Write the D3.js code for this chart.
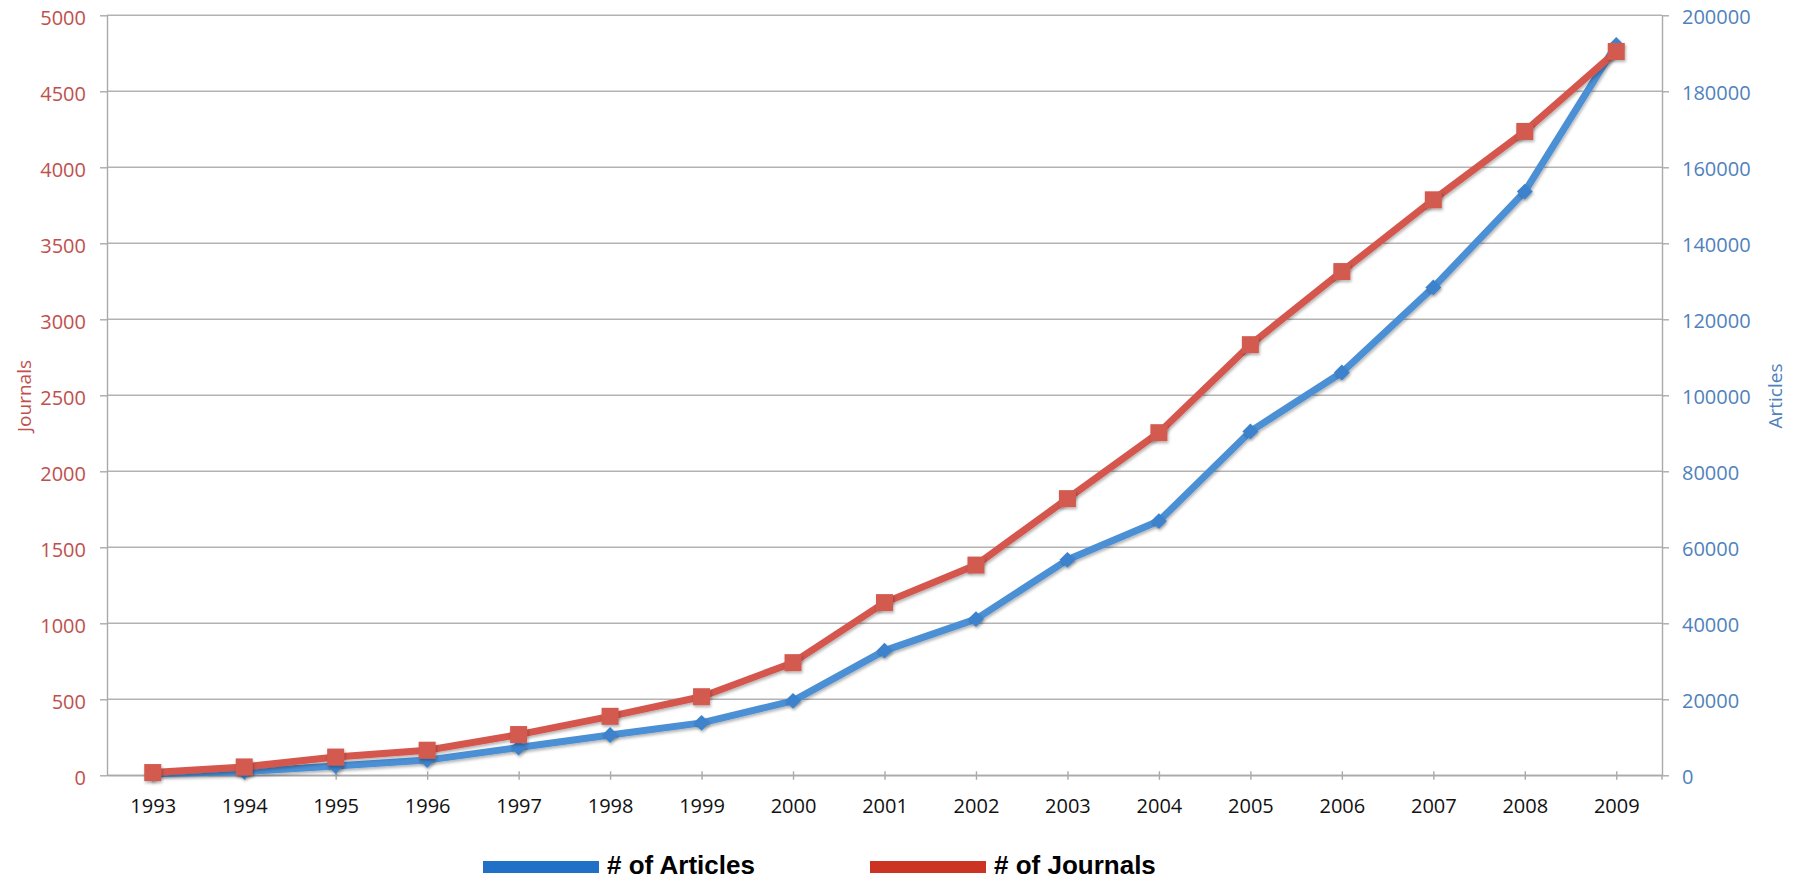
<!DOCTYPE html>
<html>
  <head>
    <meta charset="UTF-8">
    <script src="https://d3js.org/d3.v7.min.js"></script>
    <style>
      body { margin: 0; background: #fff; }
      text { font-family: "Open Sans", sans-serif; }
    </style>
  </head>
  <body>
    <svg id="chart" width="1801" height="881"></svg>

    <script type="text/javascript">
      // データ
      var years = ['1993', '1994', '1995', '1996', '1997', '1998', '1999', '2000', '2001',
                   '2002', '2003', '2004', '2005', '2006', '2007', '2008', '2009'];
      var journals = [18, 55, 120, 165, 268, 388, 517, 741, 1136, 1383, 1820, 2254, 2833, 3314, 3786, 4236, 4762];
      var articles = [400, 950, 2450, 4000, 7300, 10600, 13800, 19600, 32800, 41100, 56700, 66900, 90500, 106000, 128400, 153600, 192200];
      var journalTicks = [0, 500, 1000, 1500, 2000, 2500, 3000, 3500, 4000, 4500, 5000];
      var articleTicks = [0, 20000, 40000, 60000, 80000, 100000, 120000, 140000, 160000, 180000, 200000];

      var svg = d3.select('#chart');
      var plotLeft = 107, plotRight = 1662, plotTop = 15.3, plotBottom = 775.3;

      var x = d3.scalePoint().domain(years).range([plotLeft, plotRight]).padding(0.5);
      var yL = d3.scaleLinear().domain([0, 5000]).range([plotBottom, plotTop]);
      var yR = d3.scaleLinear().domain([0, 200000]).range([plotBottom, plotTop]);

      // シャドウ
      var f = svg.append('defs').append('filter').attr('id', 'shadow')
        .attr('x', '-50%').attr('y', '-50%').attr('width', '200%').attr('height', '200%');
      f.append('feDropShadow').attr('dx', 1).attr('dy', 2).attr('stdDeviation', 1.5)
        .attr('flood-color', '#000').attr('flood-opacity', 0.3);

      // グリッド
      svg.append('g').selectAll('line').data(journalTicks).enter().append('line')
        .attr('x1', plotLeft).attr('x2', plotRight)
        .attr('y1', function(d) { return yL(d); })
        .attr('y2', function(d) { return yL(d); })
        .attr('stroke', '#b3b3b3').attr('stroke-width', 1.4);

      // 左軸
      var gl = svg.append('g').attr('transform', 'translate(' + plotLeft + ',0)')
        .call(d3.axisLeft(yL).tickValues(journalTicks).tickFormat(d3.format('d'))
          .tickSize(7).tickPadding(14).tickSizeOuter(0));
      gl.select('.domain').attr('stroke', '#aaa').attr('stroke-width', 1.4);
      gl.selectAll('.tick line').attr('stroke', '#aaa').attr('stroke-width', 1.4);
      gl.selectAll('.tick text').attr('fill', '#c0504d').attr('font-size', 20)
        .attr('dy', '0.45em').style('font-family', '"Open Sans", sans-serif');

      // 右軸
      var gr = svg.append('g').attr('transform', 'translate(' + plotRight + ',0)')
        .call(d3.axisRight(yR).tickValues(articleTicks).tickFormat(d3.format('d'))
          .tickSize(7).tickPadding(13).tickSizeOuter(0));
      gr.select('.domain').attr('stroke', '#aaa').attr('stroke-width', 1.4);
      gr.selectAll('.tick line').attr('stroke', '#aaa').attr('stroke-width', 1.4);
      gr.selectAll('.tick text').attr('fill', '#4f81bd').attr('font-size', 20)
        .attr('dy', '0.4em').style('font-family', '"Open Sans", sans-serif');
      gr.append('line').attr('x1', 0).attr('x2', 0).attr('y1', plotBottom).attr('y2', plotBottom + 4.5)
        .attr('stroke', '#aaa').attr('stroke-width', 1.4);

      // 下軸
      var gb = svg.append('g').attr('transform', 'translate(0,' + plotBottom + ')')
        .call(d3.axisBottom(x).tickSize(4.5).tickSizeOuter(0));
      gb.select('.domain').attr('stroke', '#aaa').attr('stroke-width', 1.4);
      gb.selectAll('.tick line').attr('y1', -4).attr('stroke', '#aaa').attr('stroke-width', 1.4);
      gb.selectAll('.tick text').attr('fill', '#111').attr('font-size', 20).attr('y', 23.5)
        .style('font-family', '"Open Sans", sans-serif');

      // 軸タイトル
      svg.append('text').attr('transform', 'translate(31,396) rotate(-90)')
        .attr('text-anchor', 'middle').attr('font-size', 19).attr('fill', '#c0504d').text('Journals');
      svg.append('text').attr('transform', 'translate(1782,396) rotate(-90)')
        .attr('text-anchor', 'middle').attr('font-size', 19).attr('fill', '#4f81bd').text('Articles');

      // 折れ線
      var lineA = d3.line().x(function(d, i) { return x(years[i]); }).y(function(d) { return yR(d); });
      var lineJ = d3.line().x(function(d, i) { return x(years[i]); }).y(function(d) { return yL(d); });

      svg.append('path').datum(articles).attr('d', lineA)
        .attr('fill', 'none').attr('stroke', '#4b8fd5').attr('stroke-width', 7)
        .attr('stroke-linejoin', 'round').attr('filter', 'url(#shadow)');
      svg.append('g').selectAll('path').data(articles).enter().append('path')
        .attr('d', d3.symbol().type(d3.symbolDiamond2).size(160))
        .attr('transform', function(d, i) { return 'translate(' + x(years[i]) + ',' + yR(d) + ')'; })
        .attr('fill', '#3d82cc').attr('filter', 'url(#shadow)');

      svg.append('path').datum(journals).attr('d', lineJ)
        .attr('fill', 'none').attr('stroke', '#d4574e').attr('stroke-width', 7)
        .attr('stroke-linejoin', 'round').attr('filter', 'url(#shadow)');
      svg.append('g').selectAll('rect').data(journals).enter().append('rect')
        .attr('x', function(d, i) { return x(years[i]) - 8.5; })
        .attr('y', function(d) { return yL(d) - 8.5; })
        .attr('width', 17).attr('height', 17)
        .attr('fill', '#d35a50').attr('filter', 'url(#shadow)');

      // 凡例
      var legend = [
        { name: '# of Articles', color: '#2170c8', x: 483 },
        { name: '# of Journals', color: '#cc3322', x: 870 }
      ];
      var lg = svg.append('g').selectAll('g').data(legend).enter().append('g');
      lg.append('rect').attr('x', function(d) { return d.x; }).attr('y', 861)
        .attr('width', 116).attr('height', 12).attr('fill', function(d) { return d.color; });
      lg.append('text').attr('x', function(d) { return d.x + 124; }).attr('y', 874)
        .attr('font-size', 26).attr('font-weight', 'bold').attr('fill', '#000')
        .style('font-family', '"Liberation Sans", Arial, sans-serif')
        .text(function(d) { return d.name; });
    </script>
  </body>
</html>
